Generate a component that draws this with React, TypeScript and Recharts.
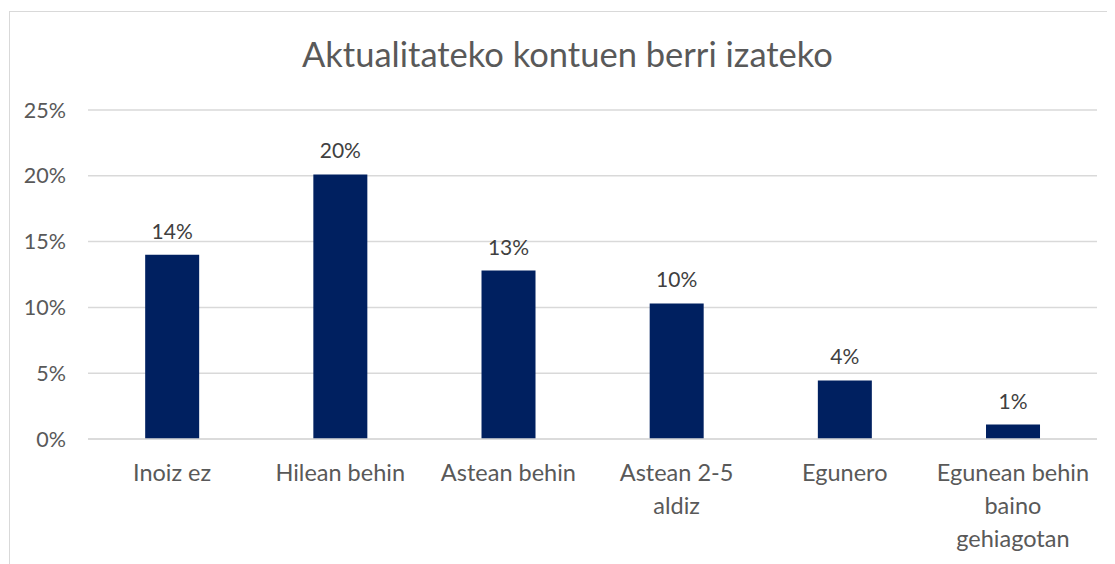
import React from "react";
import { BarChart, Bar, XAxis, YAxis, CartesianGrid, LabelList } from "recharts";

const title = "Aktualitateko kontuen berri izateko";
const categories = [
  "Inoiz ez",
  "Hilean behin",
  "Astean behin",
  "Astean 2-5\naldiz",
  "Egunero",
  "Egunean behin\nbaino\ngehiagotan",
];
const values = [14.0, 20.1, 12.8, 10.3, 4.45, 1.1];
const yTicks = [0, 5, 10, 15, 20, 25];

const data = categories.map((c, i) => ({ name: c, value: values[i] }));

const FONT = "Lato, 'Open Sans', sans-serif";

const XTick = (props: any) => {
  const { x, y, payload } = props;
  const lines = String(payload.value).split("\n");
  return (
    <text x={x} y={y} textAnchor="middle" fill="#595959" fontSize={23.5} fontFamily={FONT}>
      {lines.map((l, i) => (
        <tspan key={i} x={x} dy={i === 0 ? 34 : 33}>
          {l}
        </tspan>
      ))}
    </text>
  );
};

export default function App() {
  return (
    <div
      style={{
        position: "relative",
        marginLeft: 1,
        marginTop: 3,
        width: 1110,
        height: 560,
        borderLeft: "1px solid #d9d9d9",
        borderTop: "1px solid #d9d9d9",
        borderRight: "1px solid #d9d9d9",
        background: "#fff",
      }}
    >
      <div
        style={{
          position: "absolute",
          left: 0,
          width: 1115,
          top: 21,
          textAlign: "center",
          fontFamily: FONT,
          fontSize: 34.5,
          color: "#595959",
          fontWeight: 400,
        }}
      >
        {title}
      </div>
      <BarChart
        width={1108}
        height={560}
        data={data}
        margin={{ top: 98, left: 8, right: 21, bottom: 103 }}
        barCategoryGap="34%"
      >
        <CartesianGrid vertical={false} stroke="#d9d9d9" strokeWidth={1.5} />
        <XAxis
          dataKey="name"
          axisLine={{ stroke: "#d9d9d9", strokeWidth: 1.5 }}
          tickLine={false}
          tick={<XTick />}
          interval={0}
        />
        <YAxis
          width={70}
          domain={[0, 25]}
          ticks={yTicks}
          axisLine={false}
          tickLine={false}
          tickSize={0}
          tickMargin={22}
          tickFormatter={(v: number) => `${v}%`}
          tick={{ fill: "#595959", fontSize: 21.5, fontFamily: FONT }}
        />
        <Bar dataKey="value" fill="#002060" isAnimationActive={false}>
          <LabelList
            dataKey="value"
            position="top"
            offset={16}
            formatter={(v: any) => `${Math.round(Number(v))}%`}
            style={{ fill: "#404040", fontSize: 21, fontFamily: FONT }}
          />
        </Bar>
      </BarChart>
    </div>
  );
}
